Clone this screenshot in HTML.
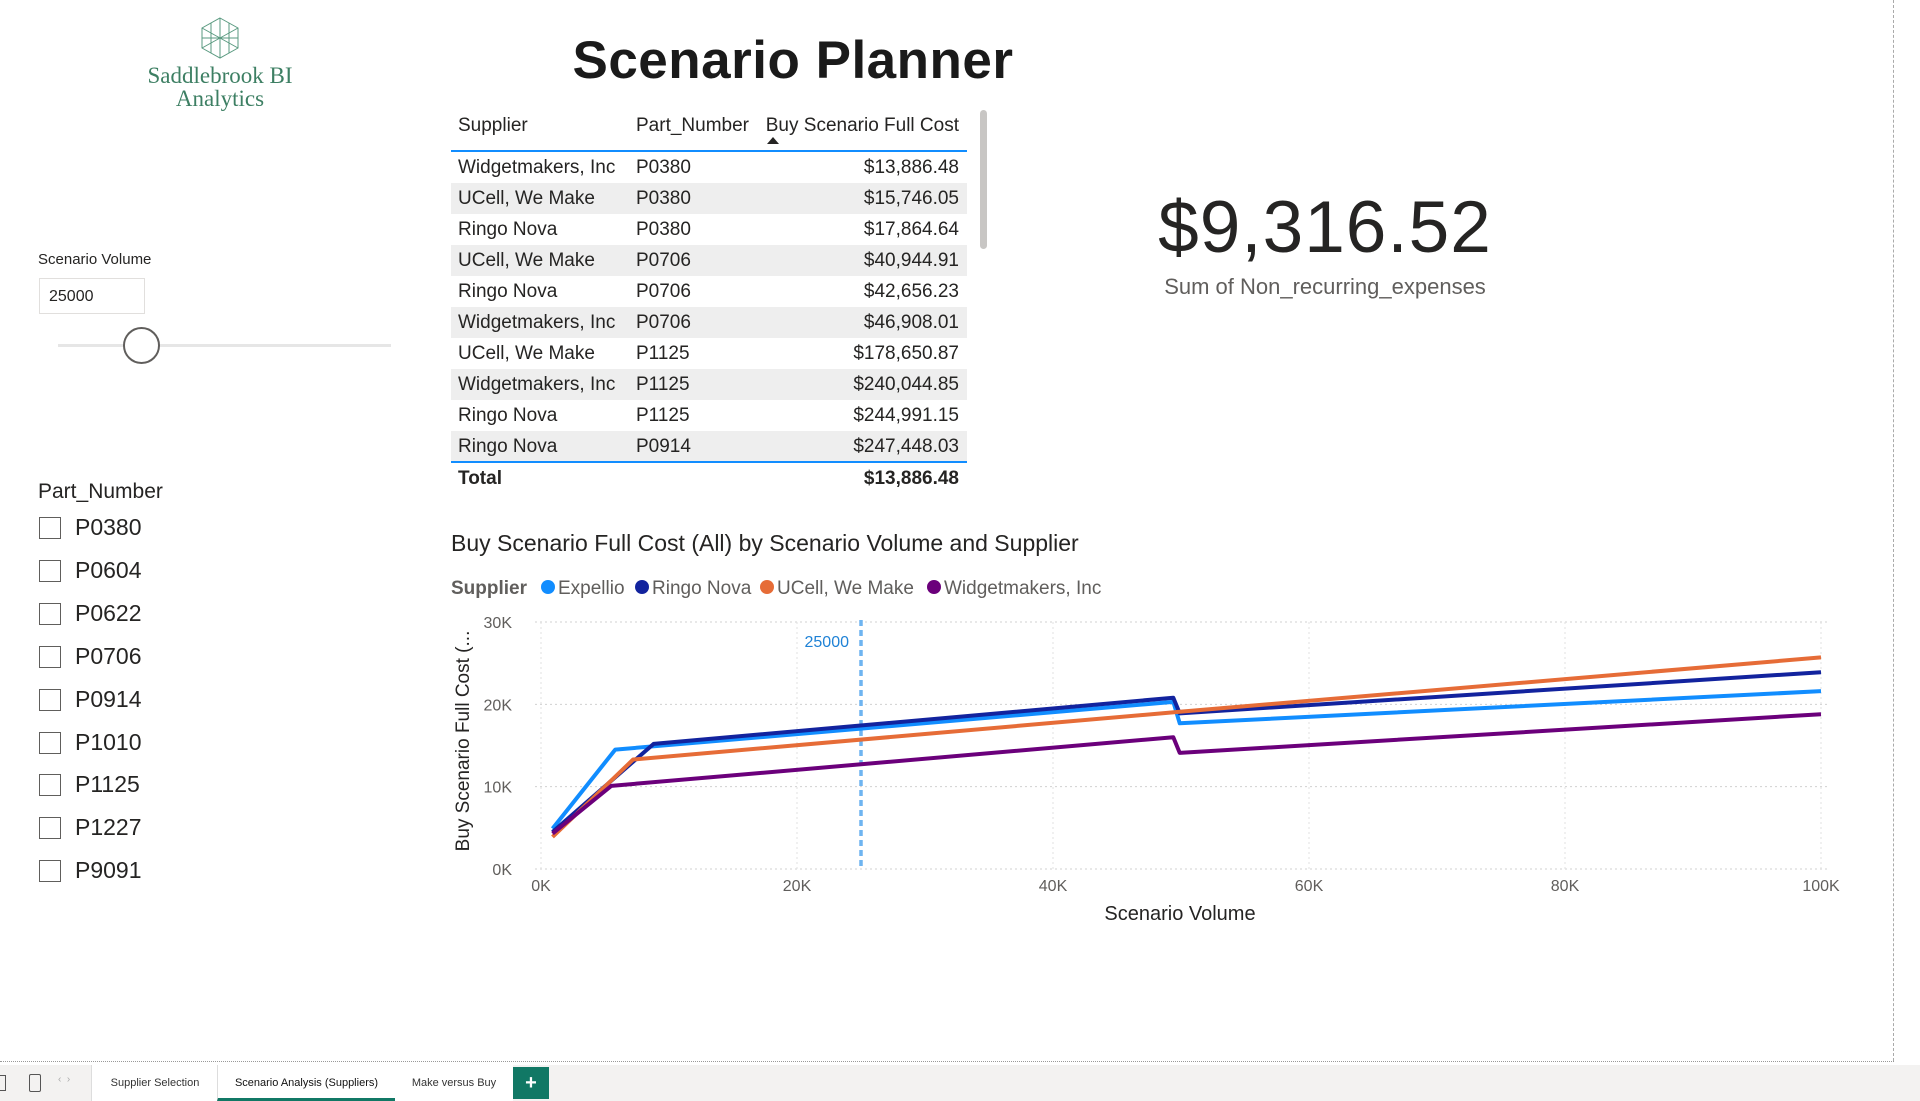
<!DOCTYPE html>
<html><head><meta charset="utf-8"><style>
body{margin:0;width:1920px;height:1101px;background:#fff;font-family:"Liberation Sans",sans-serif;position:relative;overflow:hidden;color:#252423}
.a{position:absolute;white-space:nowrap}
.row{position:absolute;left:451px;width:516px;height:31px;font-size:19px;line-height:31px}
.row span{position:absolute}
.cb{position:absolute;left:39px;width:20px;height:20px;border:1.5px solid #605e5c;background:#fff}
.cbl{position:absolute;left:75px;font-size:23px}
</style></head><body>
<div>
<svg class="a" style="left:199px;top:16px" width="42" height="44" viewBox="0 0 42 44"><g fill="none" stroke="#5a9a80" stroke-width="1"><polygon points="21,2 39,12 39,32 21,42 3,32 3,12"/><path d="M21 2V42M3 12L39 32M39 12L3 32M12 7V37M30 7V37M3 22H39"/></g></svg>
<div class="a" style="left:120px;top:64px;width:200px;text-align:center;font-family:'Liberation Serif',serif;font-size:23px;line-height:23px;color:#3d7f63">Saddlebrook BI<br>Analytics</div>
</div>
<div class="a" style="left:540px;top:30px;width:506px;text-align:center;font-size:53px;font-weight:bold;color:#1a1a1a;letter-spacing:0.5px">Scenario Planner</div>

<div>
<div class="row" style="top:110px;height:36px"><span style="left:7px">Supplier</span><span style="left:185px">Part_Number</span><span style="right:8px">Buy Scenario Full Cost</span></div>
<div class="a" style="left:767px;top:137px;width:0;height:0;border-left:6px solid transparent;border-right:6px solid transparent;border-bottom:7px solid #252423"></div>
<div class="a" style="left:451px;top:150px;width:516px;height:2px;background:#118dff"></div>
<div id="rows"></div>
<div class="a" style="left:451px;top:461px;width:516px;height:1.5px;background:#118dff"></div>
<div class="row" style="top:463px;font-weight:bold"><span style="left:7px">Total</span><span style="right:8px">$13,886.48</span></div>
<div class="a" style="left:980px;top:110px;width:7px;height:139px;background:#c8c6c4;border-radius:4px"></div>
</div>

<div class="a" style="left:1100px;top:183px;width:450px;text-align:center;font-size:73px;line-height:90px;color:#252423;letter-spacing:1px">$9,316.52</div>
<div class="a" style="left:1100px;top:274px;width:450px;text-align:center;font-size:22px;color:#605e5c">Sum of Non_recurring_expenses</div>

<div class="a" style="left:38px;top:251px;font-size:15px">Scenario Volume</div>
<div class="a" style="left:39px;top:278px;width:106px;height:36px;border:1px solid #e1dfdd;font-size:16px;line-height:36px;padding-left:9px;box-sizing:border-box">25000</div>
<div class="a" style="left:58px;top:344px;width:333px;height:3px;background:#e6e6e6"></div>
<div class="a" style="left:123px;top:327px;width:33px;height:33px;border:2.5px solid #605e5c;border-radius:50%;background:#fff"></div>

<div class="a" style="left:38px;top:480px;font-size:21px">Part_Number</div>
<div id="cbs"></div>

<div class="a" style="left:451px;top:530px;font-size:23px">Buy Scenario Full Cost (All) by Scenario Volume and Supplier</div>
<svg class="a" style="left:0;top:0" width="1920" height="1101" id="chart"></svg>

<div class="a" style="left:1893px;top:0;width:0;height:1061px;border-left:1.5px dashed #aaa"></div>
<div class="a" style="left:0;top:1061px;width:1894px;height:0;border-top:1.5px dotted #999"></div>
<div class="a" style="left:0;top:1065px;width:1920px;height:36px;background:#f3f2f1">
<div class="a" style="left:0;top:10px;width:5px;height:14px;border:1.5px solid #555;border-left:none"></div>
<div class="a" style="left:29px;top:9px;width:10px;height:16px;border:1.5px solid #555;border-radius:2px"></div>
<div class="a" style="left:58px;top:9px;font-size:10px;color:#aaa">‹ &nbsp;›</div>
<div class="a" style="left:91px;top:0;width:126px;height:36px;background:#fff;border-left:1px solid #ddd;font-size:11px;line-height:36px;text-align:center;color:#333">Supplier Selection</div>
<div class="a" style="left:217px;top:0;width:177px;height:33px;background:#fff;border-bottom:3px solid #117865;border-left:1px solid #ddd;border-right:1px solid #ddd;font-size:11px;line-height:36px;text-align:center;color:#111">Scenario Analysis (Suppliers)</div>
<div class="a" style="left:395px;top:0;width:118px;height:36px;background:#fff;font-size:11px;line-height:36px;text-align:center;color:#333">Make versus Buy</div>
<div class="a" style="left:513px;top:2px;width:36px;height:32px;background:#117865;color:#fff;font-size:20px;font-weight:bold;line-height:32px;text-align:center">+</div>
</div>

<script>
const rowSup=["Widgetmakers, Inc","UCell, We Make","Ringo Nova","UCell, We Make","Ringo Nova","Widgetmakers, Inc","UCell, We Make","Widgetmakers, Inc","Ringo Nova","Ringo Nova"];
const rowPart=["P0380","P0380","P0380","P0706","P0706","P0706","P1125","P1125","P1125","P0914"];
const rowCost=["$13,886.48","$15,746.05","$17,864.64","$40,944.91","$42,656.23","$46,908.01","$178,650.87","$240,044.85","$244,991.15","$247,448.03"];
const rw=document.getElementById('rows');
rowSup.forEach((s,i)=>{const d=document.createElement('div');d.className='row';d.style.top=(152+i*31)+'px';if(i%2)d.style.background='#eeeeee';


d.innerHTML='<span style="left:7px">'+s+'</span><span style="left:185px">'+rowPart[i]+'</span><span style="right:8px">'+rowCost[i]+'</span>';rw.appendChild(d);});
const parts=["P0380","P0604","P0622","P0706","P0914","P1010","P1125","P1227","P9091"];
const cb=document.getElementById('cbs');
parts.forEach((p,i)=>{const y=517+i*42.9;const b=document.createElement('div');b.className='cb';b.style.top=y+'px';


cb.appendChild(b);const t=document.createElement('div');t.className='cbl';t.style.top=(y-3)+'px';t.textContent=p;


cb.appendChild(t);});

const series=["Expellio","Ringo Nova","UCell, We Make","Widgetmakers, Inc"];
const colors=["#118dff","#12239e","#e66c37","#6b007b"];
const xs=[[0.9,5.8,49.4,49.9,100],[0.9,8.8,49.4,49.9,100],[0.9,7.2,49.9,100],[0.9,5.5,49.4,49.9,100]];
const ys=[[4.9,14.5,20.3,17.7,21.6],[4.5,15.2,20.8,18.9,23.9],[3.9,13.3,19.1,25.7],[4.3,10.1,16.0,14.1,18.8]];
const xTicks=[0,20,40,60,80,100];
const yTicks=[0,10,20,30];
const refX=25;
const X=v=>541+v/100*1280, Y=v=>869-v/30*247;
const svg=document.getElementById('chart');const NS='http://www.w3.org/2000/svg';
function mk(t,a){const e=document.createElementNS(NS,t);for(const k in a)e.setAttribute(k,a[k]);svg.appendChild(e);return e;}
yTicks.forEach(v=>{const g=mk('line',{x1:535,x2:1830,y1:Y(v),y2:Y(v),stroke:'#d0d0d0','stroke-dasharray':'2,3'});


const t=mk('text',{x:512,y:Y(v)+6,'text-anchor':'end','font-size':16,fill:'#605e5c'});t.textContent=v+'K';

});
xTicks.forEach(v=>{const g=mk('line',{x1:X(v),x2:X(v),y1:Y(30),y2:Y(0),stroke:'#e0e0e0','stroke-dasharray':'2,3'});


const t=mk('text',{x:X(v),y:891,'text-anchor':'middle','font-size':16,fill:'#605e5c'});t.textContent=v+'K';

});
const rl=mk('line',{x1:X(refX),x2:X(refX),y1:620,y2:866,stroke:'#6eb4f0','stroke-width':3.5,'stroke-dasharray':'6,4'});


const rt=mk('text',{x:X(refX)-12,y:647,'text-anchor':'end','font-size':16,fill:'#1f82d6'});rt.textContent=refX*1000;


series.forEach((s,i)=>{const p=mk('polyline',{points:xs[i].map((x,j)=>X(x)+','+Y(ys[i][j])).join(' '),fill:'none',stroke:colors[i],'stroke-width':4,'stroke-linejoin':'round'});

});
const yt=mk('text',{x:0,y:0,transform:'translate(469,741) rotate(-90)','text-anchor':'middle','font-size':19,fill:'#252423'});yt.textContent='Buy Scenario Full Cost (...';


const xt=mk('text',{x:1180,y:920,'text-anchor':'middle','font-size':20,fill:'#252423'});xt.textContent='Scenario Volume';


const lt=mk('text',{x:451,y:594,'font-size':19,'font-weight':'bold',fill:'#605e5c'});lt.textContent='Supplier';


let lx=540;const lw=[94,125,167,200];
series.forEach((s,i)=>{const c=mk('circle',{cx:lx+8,cy:587,r:7,fill:colors[i]});


const t=mk('text',{x:lx+18,y:594,'font-size':19,fill:'#605e5c'});t.textContent=s;


lx+=lw[i];});
</script>
</body></html>
